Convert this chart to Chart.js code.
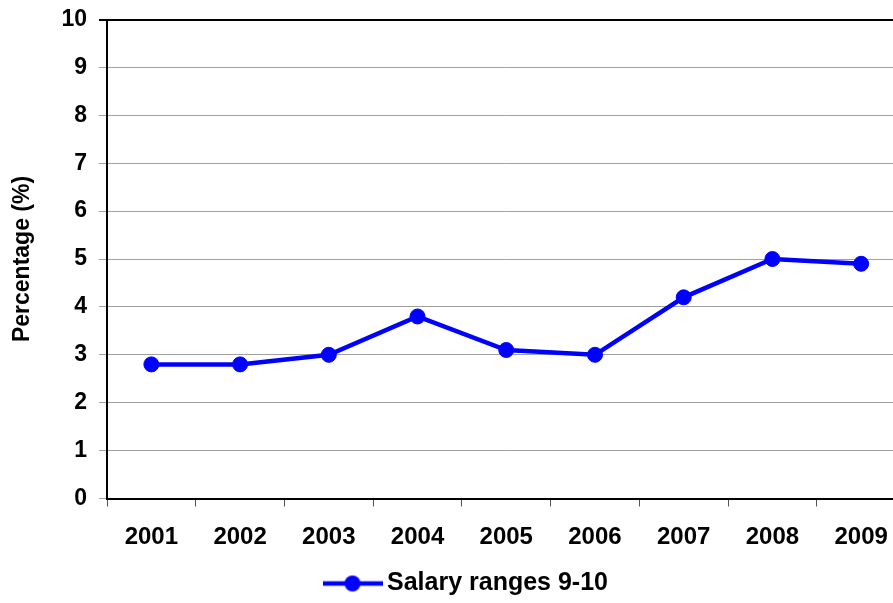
<!DOCTYPE html>
<html>
<head>
<meta charset="utf-8">
<script src="https://cdn.jsdelivr.net/npm/chart.js@4.4.0/dist/chart.umd.min.js"></script>
<style>
    html, body { margin: 0; padding: 0; background: #fff; overflow: hidden; }
    #wrap { width: 914px; height: 603px; position: relative; }
</style>
</head>
<body>
<div id="wrap"><canvas id="chart"></canvas></div>
<script>
    // Data
    const years = ['2001', '2002', '2003', '2004', '2005', '2006', '2007', '2008', '2009'];
    const salaryRanges = [2.8, 2.8, 3.0, 3.8, 3.1, 3.0, 4.2, 5.0, 4.9];
    const seriesLabel = 'Salary ranges 9-10';
    const yTitle = 'Percentage (%)';

    const lineColor = '#0000ff';
    const fontFamily = "'Liberation Sans', Arial, sans-serif";

    // legend marker: a short line with a dot in the middle
    const marker = document.createElement('canvas');
    marker.width = 60;
    marker.height = 18;
    (() => {
        const c = marker.getContext('2d');
        c.strokeStyle = lineColor;
        c.lineWidth = 4.5;
        c.beginPath();
        c.moveTo(0, 9);
        c.lineTo(60, 9);
        c.stroke();
        c.fillStyle = lineColor;
        c.beginPath();
        c.arc(30, 9, 8, 0, Math.PI * 2);
        c.fill();
    })();

    new Chart(document.getElementById('chart'), {
        type: 'line',
        data: {
            labels: years,
            datasets: [{
                label: seriesLabel,
                data: salaryRanges,
                borderColor: lineColor,
                backgroundColor: lineColor,
                borderWidth: 4.5,
                pointRadius: 7.5,
                pointHoverRadius: 7.5,
                pointBorderWidth: 1,
                pointStyle: 'circle',
                tension: 0
            }]
        },
        options: {
            responsive: true,
            maintainAspectRatio: false,
            animation: false,
            layout: { padding: { top: 19.5, left: 0, right: 0, bottom: 0 } },
            plugins: {
                tooltip: { enabled: false },
                legend: {
                    position: 'bottom',
                    align: 'start',
                    labels: {
                        usePointStyle: true,
                        pointStyle: marker,
                        pointStyleWidth: 44,
                        color: '#000',
                        padding: 10,
                        font: { family: fontFamily, size: 25, weight: 'bold' }
                    }
                }
            },
            scales: {
                x: {
                    offset: true,
                    grid: {
                        offset: true,
                        drawOnChartArea: false,
                        tickLength: 8,
                        color: '#555',
                        lineWidth: 1
                    },
                    border: { color: '#000', width: 2 },
                    ticks: {
                        color: '#000',
                        padding: 16,
                        maxRotation: 0,
                        font: { family: fontFamily, size: 24, weight: 'bold' }
                    },
                    afterFit: (scale) => { scale.height = 59.5; }
                },
                y: {
                    min: 0,
                    max: 10,
                    ticks: {
                        stepSize: 1,
                        color: '#000',
                        padding: 12,
                        font: { family: fontFamily, size: 23, weight: 'bold' }
                    },
                    grid: {
                        tickLength: 8,
                        color: (ctx) => ctx.tick && ctx.tick.value === 10 ? '#000' : '#a0a0a0',
                        lineWidth: (ctx) => ctx.tick && ctx.tick.value === 10 ? 2 : 1
                    },
                    border: { color: '#000', width: 2 },
                    title: {
                        display: true,
                        text: yTitle,
                        color: '#000',
                        padding: { top: 9, bottom: 0 },
                        font: { family: fontFamily, size: 23, weight: 'bold' }
                    },
                    afterFit: (scale) => {
                        scale.width = 107;
                        scale.paddingTop = 0;
                        scale.paddingBottom = 0;
                    }
                }
            }
        },
        plugins: [{
            // move the legend under the visible part of the picture
            id: 'legendPlace',
            afterLayout(chart) {
                const lg = chart.legend;
                if (!lg) return;
                lg.left = 330.5 - lg.options.labels.padding;
                lg.top += 3;
                lg.bottom += 3;
            }
        }]
    });
</script>
</body>
</html>
